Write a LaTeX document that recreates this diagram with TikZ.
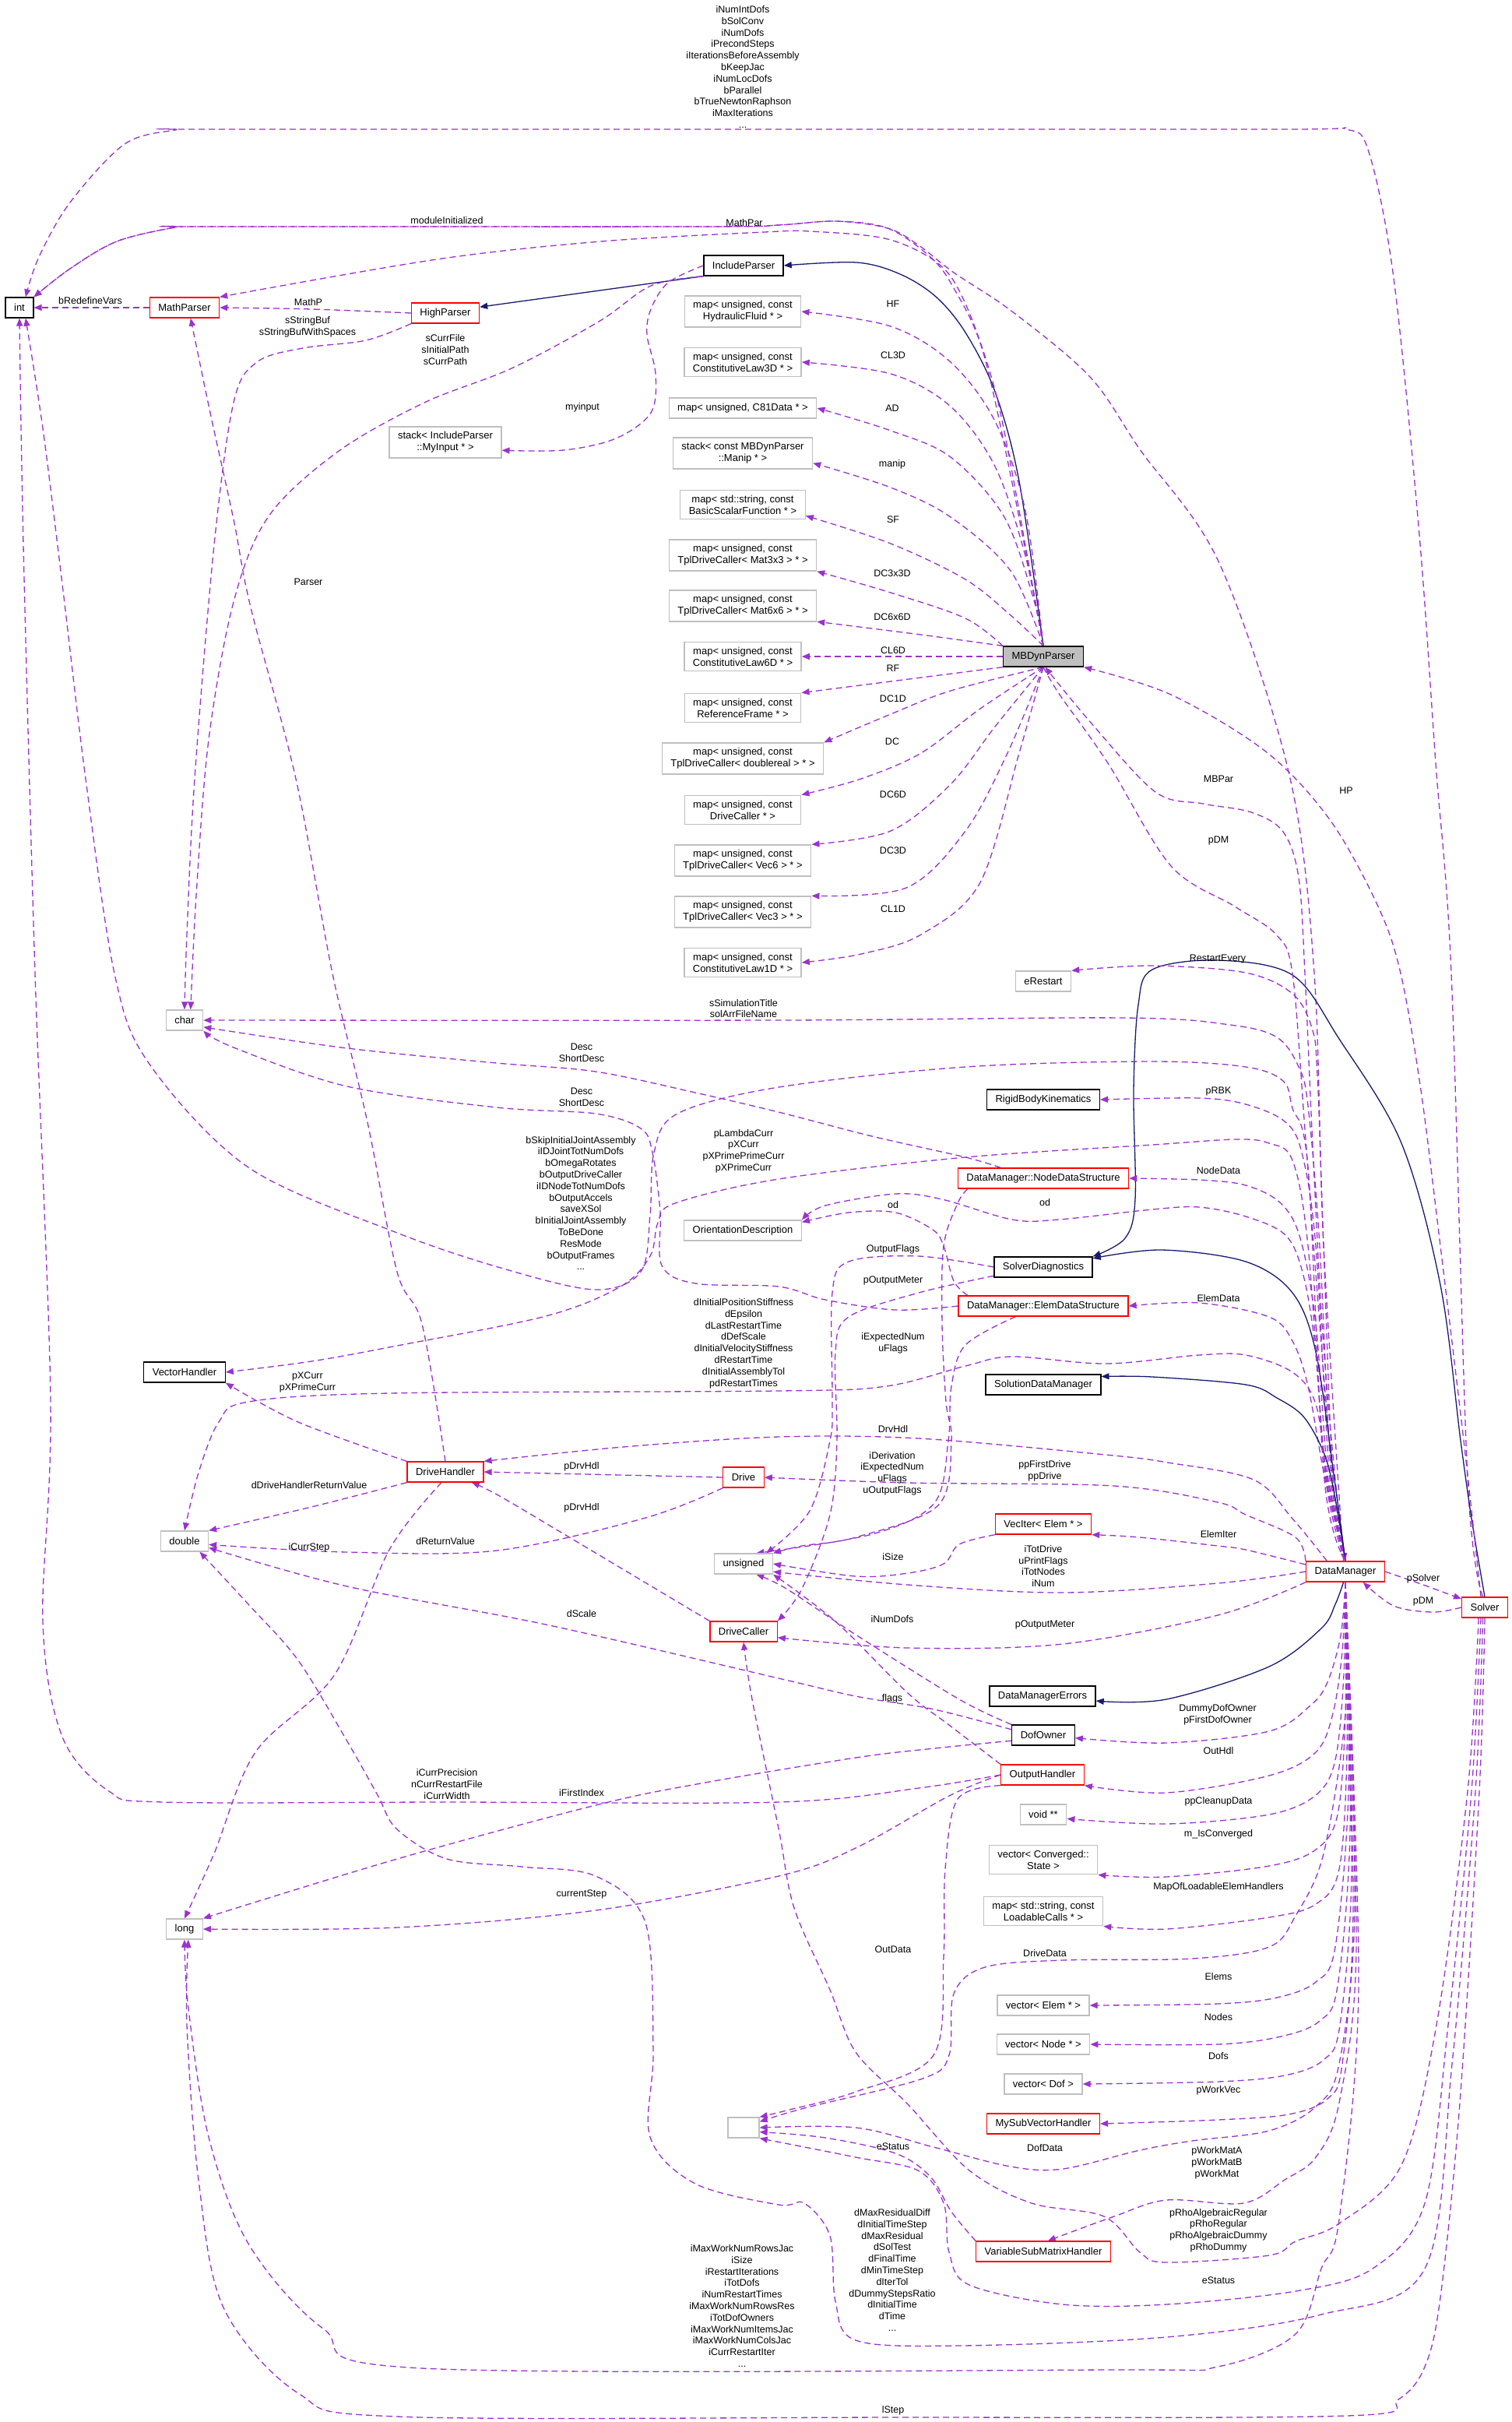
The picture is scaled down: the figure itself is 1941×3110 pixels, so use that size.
\documentclass[tikz,border=0pt]{standalone}
\usepackage{fontspec}
\setmainfont{Liberation Sans}
\usetikzlibrary{arrows.meta,backgrounds}
\definecolor{edgecol}{HTML}{9A32CD}
\definecolor{basecol}{HTML}{191970}
\definecolor{greycol}{HTML}{BFBFBF}
\begin{document}
\begin{tikzpicture}[
    x=1pt, y=-1pt, tension=0.55,
    >={Triangle[length=10pt,width=8pt]},
    every node/.style={font=\fontsize{13}{15}\selectfont, align=center},
    cls/.style={draw=black, line width=1.3pt, fill=white, inner xsep=11pt, inner ysep=6.5pt, minimum height=26pt},
    hot/.style={cls, draw=red},
    plain/.style={cls, draw=greycol},
    lbl/.style={font=\fontsize{12.5}{14.8}\selectfont, inner sep=0pt},
    member/.style={draw=edgecol, line width=1.3pt, dash pattern=on 8pt off 5pt, ->},
    inherit/.style={draw=basecol, line width=1.3pt, ->}
]
\begin{scope}[on background layer]
\path[use as bounding box, fill=white] (0,0) rectangle (1941,3110);
\end{scope}

\node[cls] (intT) at (25,395) {int};
\node[hot] (mathp) at (237,395) {MathParser};
\node[hot] (highp) at (572,402) {HighParser};
\node[cls] (inclp) at (955,341) {IncludeParser};
\node[plain] (stackin) at (572,568) {stack< IncludeParser\\::MyInput * >};
\node[plain] (charT) at (237,1310) {char};
\node[cls] (vech) at (237,1762) {VectorHandler};
\node[plain] (dblT) at (237,1979) {double};
\node[plain] (longT) at (237,2477) {long};
\node[hot] (drvh) at (572,1890) {DriveHandler};
\node[hot] (drive) at (955,1897) {Drive};
\node[plain] (unsT) at (955,2008) {unsigned};
\node[hot] (drvc) at (955,2095) {DriveCaller};
\node[plain, minimum width=40pt] (emptyT) at (955,2732) {};
\node[plain] (orient) at (954,1580) {OrientationDescription};

\node[plain] (mapHF) at (954,400) {map< unsigned, const\\HydraulicFluid * >};
\node[plain] (mapCLtd) at (954,465) {map< unsigned, const\\ConstitutiveLaw3D * >};
\node[plain] (mapAD) at (954,524) {map< unsigned, C81Data * >};
\node[plain] (stManip) at (954,582) {stack< const MBDynParser\\::Manip * >};
\node[plain] (mapSF) at (954,648) {map< std::string, const\\BasicScalarFunction * >};
\node[plain] (mapDCmm) at (954,713) {map< unsigned, const\\TplDriveCaller< Mat3x3 > * >};
\node[plain] (mapDCss) at (954,778) {map< unsigned, const\\TplDriveCaller< Mat6x6 > * >};
\node[plain] (mapCLsd) at (954,843) {map< unsigned, const\\ConstitutiveLaw6D * >};
\node[plain] (mapRF) at (954,909) {map< unsigned, const\\ReferenceFrame * >};
\node[plain] (mapDCd) at (954,974) {map< unsigned, const\\TplDriveCaller< doublereal > * >};
\node[plain] (mapDC) at (954,1040) {map< unsigned, const\\DriveCaller * >};
\node[plain] (mapDCvs) at (954,1105) {map< unsigned, const\\TplDriveCaller< Vec6 > * >};
\node[plain] (mapDCvt) at (954,1171) {map< unsigned, const\\TplDriveCaller< Vec3 > * >};
\node[plain] (mapCLod) at (954,1236) {map< unsigned, const\\ConstitutiveLaw1D * >};

\node[cls, fill=greycol] (mbp) at (1340,843) {MBDynParser};
\node[plain] (erest) at (1340,1260) {eRestart};
\node[cls] (rbk) at (1340,1412) {RigidBodyKinematics};
\node[hot] (nds) at (1340,1513) {DataManager::NodeDataStructure};
\node[cls] (sdiag) at (1340,1627) {SolverDiagnostics};
\node[hot] (eds) at (1340,1677) {DataManager::ElemDataStructure};
\node[cls] (sdm) at (1340,1778) {SolutionDataManager};
\node[hot] (veciter) at (1340,1957) {VecIter< Elem * >};
\node[cls] (dmerr) at (1339,2178) {DataManagerErrors};
\node[cls] (dofo) at (1340,2228) {DofOwner};
\node[hot] (outh) at (1339,2279) {OutputHandler};
\node[plain] (voidp) at (1340,2330) {void **};
\node[plain] (vconv) at (1340,2388) {vector< Converged::\\State >};
\node[plain] (mapLC) at (1340,2454) {map< std::string, const\\LoadableCalls * >};
\node[plain] (vElem) at (1340,2575) {vector< Elem * >};
\node[plain] (vNode) at (1340,2625) {vector< Node * >};
\node[plain] (vDof) at (1340,2676) {vector< Dof >};
\node[hot] (msvh) at (1340,2727) {MySubVectorHandler};
\node[hot] (vsmh) at (1340,2891) {VariableSubMatrixHandler};
\node[hot] (dman) at (1728,2018) {DataManager};
\node[hot] (solver) at (1907,2064) {Solver};

\node[lbl] (lTop) at (954,86) {iNumIntDofs\\bSolConv\\iNumDofs\\iPrecondSteps\\iIterationsBeforeAssembly\\bKeepJac\\iNumLocDofs\\bParallel\\bTrueNewtonRaphson\\iMaxIterations\\...};
\node[lbl] (lModInit) at (574,283) {moduleInitialized};
\node[lbl] (lMathPar) at (956,286) {MathPar};
\node[lbl] (lRedef) at (116,386) {bRedefineVars};
\node[lbl] (lMathP) at (396,388) {MathP};
\node[lbl] (lStrBuf) at (395,420) {sStringBuf\\sStringBufWithSpaces};
\node[lbl] (lCurrFile) at (572,449) {sCurrFile\\sInitialPath\\sCurrPath};
\node[lbl] (lMyInput) at (748,523) {myinput};
\node[lbl] (lParser) at (396,747) {Parser};
\node[lbl] (lHF) at (1147,390) {HF};
\node[lbl] (lCLtd) at (1147,456) {CL3D};
\node[lbl] (lAD) at (1146,524) {AD};
\node[lbl] (lManip) at (1146,596) {manip};
\node[lbl] (lSF) at (1147,667) {SF};
\node[lbl] (lDCmm) at (1146,736) {DC3x3D};
\node[lbl] (lDCss) at (1146,792) {DC6x6D};
\node[lbl] (lCLsd) at (1147,835) {CL6D};
\node[lbl] (lRF) at (1147,858) {RF};
\node[lbl] (lDCd) at (1147,897) {DC1D};
\node[lbl] (lDC) at (1146,952) {DC};
\node[lbl] (lDCvs) at (1147,1020) {DC6D};
\node[lbl] (lDCvt) at (1147,1092) {DC3D};
\node[lbl] (lCLod) at (1147,1167) {CL1D};
\node[lbl] (lHP) at (1729,1015) {HP};
\node[lbl] (lMBPar) at (1565,1000) {MBPar};
\node[lbl] (lDMa) at (1565,1079) {pDM};
\node[lbl] (lRestart) at (1564,1231) {RestartEvery};
\node[lbl] (lSimTitle) at (955,1295) {sSimulationTitle\\solArrFileName};
\node[lbl] (lDescA) at (747,1352) {Desc\\ShortDesc};
\node[lbl] (lDescB) at (747,1409) {Desc\\ShortDesc};
\node[lbl] (lRBK) at (1565,1401) {pRBK};
\node[lbl] (lSkip) at (746,1545) {bSkipInitialJointAssembly\\iIDJointTotNumDofs\\bOmegaRotates\\bOutputDriveCaller\\iIDNodeTotNumDofs\\bOutputAccels\\saveXSol\\bInitialJointAssembly\\ToBeDone\\ResMode\\bOutputFrames\\...};
\node[lbl] (lLambda) at (955,1478) {pLambdaCurr\\pXCurr\\pXPrimePrimeCurr\\pXPrimeCurr};
\node[lbl] (lNodeData) at (1565,1503) {NodeData};
\node[lbl] (lOdA) at (1147,1547) {od};
\node[lbl] (lOdB) at (1342,1544) {od};
\node[lbl] (lOutFlags) at (1147,1604) {OutputFlags};
\node[lbl] (lOutMetA) at (1147,1644) {pOutputMeter};
\node[lbl] (lElemData) at (1565,1667) {ElemData};
\node[lbl] (lStiff) at (955,1725) {dInitialPositionStiffness\\dEpsilon\\dLastRestartTime\\dDefScale\\dInitialVelocityStiffness\\dRestartTime\\dInitialAssemblyTol\\pdRestartTimes};
\node[lbl] (lExpNum) at (1147,1725) {iExpectedNum\\uFlags};
\node[lbl] (lXCurr) at (395,1775) {pXCurr\\pXPrimeCurr};
\node[lbl] (lDrvHdlC) at (1147,1835) {DrvHdl};
\node[lbl] (lDrvHdlA) at (747,1883) {pDrvHdl};
\node[lbl] (lDeriv) at (1146,1892) {iDerivation\\iExpectedNum\\uFlags\\uOutputFlags};
\node[lbl] (lFirstDrive) at (1342,1889) {ppFirstDrive\\ppDrive};
\node[lbl] (lDrvRet) at (397,1907) {dDriveHandlerReturnValue};
\node[lbl] (lDrvHdlB) at (747,1936) {pDrvHdl};
\node[lbl] (lElemIter) at (1565,1970) {ElemIter};
\node[lbl] (lRetVal) at (572,1979) {dReturnValue};
\node[lbl] (lCurrStep) at (397,1987) {iCurrStep};
\node[lbl] (lSize) at (1147,1999) {iSize};
\node[lbl] (lTotDrive) at (1340,2011) {iTotDrive\\uPrintFlags\\iTotNodes\\iNum};
\node[lbl] (lSolver) at (1828,2027) {pSolver};
\node[lbl] (lDMb) at (1828,2056) {pDM};
\node[lbl] (lScale) at (747,2072) {dScale};
\node[lbl] (lNumDofs) at (1146,2079) {iNumDofs};
\node[lbl] (lOutMetB) at (1342,2086) {pOutputMeter};
\node[lbl] (lFlags) at (1146,2181) {flags};
\node[lbl] (lDummy) at (1564,2202) {DummyDofOwner\\pFirstDofOwner};
\node[lbl] (lOutHdl) at (1565,2248) {OutHdl};
\node[lbl] (lPrec) at (574,2291) {iCurrPrecision\\nCurrRestartFile\\iCurrWidth};
\node[lbl] (lFirstIdx) at (747,2302) {iFirstIndex};
\node[lbl] (lCleanup) at (1565,2313) {ppCleanupData};
\node[lbl] (lConv) at (1565,2355) {m\_IsConverged};
\node[lbl] (lLoad) at (1565,2423) {MapOfLoadableElemHandlers};
\node[lbl] (lCurStep) at (747,2432) {currentStep};
\node[lbl] (lOutData) at (1147,2503) {OutData};
\node[lbl] (lDrvData) at (1342,2508) {DriveData};
\node[lbl] (lElems) at (1565,2538) {Elems};
\node[lbl] (lNodes) at (1565,2590) {Nodes};
\node[lbl] (lDofs) at (1565,2640) {Dofs};
\node[lbl] (lWorkVec) at (1565,2684) {pWorkVec};
\node[lbl] (lStatA) at (1147,2756) {eStatus};
\node[lbl] (lDofData) at (1342,2758) {DofData};
\node[lbl] (lWorkMat) at (1563,2777) {pWorkMatA\\pWorkMatB\\pWorkMat};
\node[lbl] (lRho) at (1565,2864) {pRhoAlgebraicRegular\\pRhoRegular\\pRhoAlgebraicDummy\\pRhoDummy};
\node[lbl] (lResid) at (1146,2915) {dMaxResidualDiff\\dInitialTimeStep\\dMaxResidual\\dSolTest\\dFinalTime\\dMinTimeStep\\dIterTol\\dDummyStepsRatio\\dInitialTime\\dTime\\...};
\node[lbl] (lStatB) at (1565,2928) {eStatus};
\node[lbl] (lIter) at (953,2961) {iMaxWorkNumRowsJac\\iSize\\iRestartIterations\\iTotDofs\\iNumRestartTimes\\iMaxWorkNumRowsRes\\iTotDofOwners\\iMaxWorkNumItemsJac\\iMaxWorkNumColsJac\\iCurrRestartIter\\...};
\node[lbl] (lStep) at (1147,3095) {lStep};

\begin{scope}[on background layer]
\draw[member] (mathp.west) -- (intT.east);
\draw[member] plot[smooth] coordinates {(highp.west) (400,397) (mathp.east)};
\draw[inherit] (inclp.south west) -- (highp.10);
\draw[inherit] plot[smooth] coordinates {(mbp.north) (1309,618) (1278,503) (1240,427) (1202,381) (1156,352) (1100,337) (inclp.east)};
\draw[member] plot[smooth] coordinates {(highp.south west) (470,437) (389,447) (330,465) (300,517) (275,700) (250,1000) (240,1200) (charT.north)};
\draw[member] plot[smooth] coordinates {(inclp.south west) (836,367) (769,413) (657,473) (545,517) (434,580) (345,663) (300,773) (268,950) (252,1150) (charT.60)};
\draw[member] plot[smooth] coordinates {(inclp.west) (858,363) (836,397) (831,430) (842,480) (836,530) (791,563) (724,578) (stackin.-8)};
\draw[member] plot[smooth] coordinates {(mbp.north) (1295,580) (1273,483) (1240,390) (1207,340) (1140,307) (1040,297) (982,298) (772,310) (561,333) (mathp.north east)};
\draw[member] plot[smooth] coordinates {(mbp.north) (1300,620) (1262,450) (1225,370) (1195,330) (1140,293) (1073,284) (1000,289) (900,291) (260,291) (225,292) (150,310) (90,345) (intT.north east)};
\draw[member] plot[smooth] coordinates {(dman.100) (1700,1600) (1688,1250) (1656,995) (1566,723) (1464,577) (1400,484) (1300,400) (1225,350) (1180,315) (1140,293) (1073,284) (1000,289) (900,291) (260,291) (225,292) (150,310) (90,345) (intT.north east)};
\draw[member] plot[smooth] coordinates {(solver.100) (1885,1900) (1864,1250) (1844,980) (1823,687) (1790,357) (1758,195) (1729,166) (1650,166) (954,166) (260,166) (225,167) (160,185) (90,260) (50,330) (intT.60)};

\draw[member] plot[smooth] coordinates {(mbp.north) (1317,656) (1278,541) (1221,465) (1144,419) (mapHF.east)};
\draw[member] plot[smooth] coordinates {(mbp.north) (1317,714) (1278,599) (1221,522) (1144,480) (mapCLtd.east)};
\draw[member] plot[smooth] coordinates {(mbp.north) (1328,771) (1290,664) (1221,587) (1144,553) (mapAD.east)};
\draw[member] plot[smooth] coordinates {(mbp.north) (1298,733) (1221,664) (1144,626) (stManip.-8)};
\draw[member] plot[smooth] coordinates {(mbp.north) (1298,790) (1240,744) (1144,698) (mapSF.-10)};
\draw[member] plot[smooth] coordinates {(mbp.north west) (1240,794) (1144,761) (mapDCmm.south east)};
\draw[member] plot[smooth] coordinates {(mbp.north west) (1183,815) (mapDCss.-12)};
\draw[member] (mbp.west) -- (mapCLsd.east);
\draw[member] plot[smooth] coordinates {(mbp.south west) (1183,870) (mapRF.north east)};
\draw[member] plot[smooth] coordinates {(mbp.south) (1221,887) (1144,917) (mapDCd.north east)};
\draw[member] plot[smooth] coordinates {(mbp.south) (1259,910) (1183,967) (1106,1000) (mapDC.north east)};
\draw[member] plot[smooth] coordinates {(mbp.south) (1278,933) (1221,1007) (1144,1067) (mapDCvs.north east)};
\draw[member] plot[smooth] coordinates {(mbp.south) (1294,967) (1240,1067) (1164,1140) (mapDCvt.north east)};
\draw[member] plot[smooth] coordinates {(mbp.south) (1309,967) (1259,1133) (1183,1200) (1106,1225) (mapCLod.east)};

\draw[inherit] plot[smooth] coordinates {(solver.north) (1890,1950) (1876,1850) (1850,1650) (1800,1468) (1720,1334) (1660,1252) (1564,1233) (1480,1245) (1462,1290) (1456,1400) (1458,1540) (1445,1590) (sdiag.north east)};
\draw[member] plot[smooth] coordinates {(solver.110) (1880,1850) (1850,1600) (1825,1400) (1799,1250) (1770,1164) (1709,1054) (1627,966) (1504,892) (mbp.south east)};
\draw[member] plot[smooth] coordinates {(mbp.south) (1361,892) (1423,980) (1504,1112) (1586,1164) (1639,1200) (1660,1250) (1676,1450) (1695,1700) (1712,1900) (dman.north)};
\draw[member] plot[smooth] coordinates {(dman.north) (1715,1900) (1698,1700) (1685,1450) (1676,1250) (1668,1127) (1648,1068) (1607,1043) (1545,1032) (1484,1017) (1402,929) (mbp.-80)};

\draw[member] plot[smooth] coordinates {(dman.north) (1712,1900) (1700,1600) (1692,1380) (1685,1320) (1660,1276) (1600,1249) (1480,1240) (erest.north east)};
\draw[member] plot[smooth] coordinates {(dman.north) (1710,1900) (1695,1600) (1680,1420) (1668,1370) (1640,1332) (1580,1316) (1444,1307) (1000,1310) (charT.east)};
\draw[member] plot[smooth] coordinates {(dman.north) (1708,1900) (1690,1600) (1672,1480) (1650,1440) (1600,1418) (1540,1410) (rbk.east)};
\draw[member] plot[smooth] coordinates {(dman.north) (1706,1900) (1690,1700) (1670,1590) (1645,1545) (1600,1522) (1540,1515) (nds.east)};
\draw[member] plot[smooth] coordinates {(dman.north) (1704,1900) (1688,1720) (1672,1630) (1650,1585) (1600,1562) (1540,1550) (1480,1553) (1360,1566) (1300,1566) (1210,1540) (1150,1533) (1060,1548) (orient.north east)};
\draw[inherit] plot[smooth] coordinates {(dman.north) (1714,1900) (1690,1736) (1660,1660) (1600,1620) (1492,1605) (sdiag.10)};
\draw[member] plot[smooth] coordinates {(dman.north) (1702,1900) (1680,1780) (1660,1722) (1630,1691) (1540,1673) (eds.east)};
\draw[inherit] plot[smooth] coordinates {(dman.north) (1716,1930) (1702,1870) (1675,1820) (1640,1795) (1600,1778) (1480,1768) (sdm.8)};
\draw[member] plot[smooth] coordinates {(dman.north) (1705,1900) (1690,1803) (1660,1762) (1600,1740) (1540,1740) (1420,1751) (1300,1742) (1240,1754) (1138,1780) (1000,1786) (500,1789) (319,1800) (281,1826) (255,1891) (dblT.north)};
\draw[member] plot[smooth] coordinates {(dman.north) (1703,1900) (1680,1600) (1660,1490) (1630,1468) (1588,1463) (1480,1470) (1240,1486) (1000,1514) (867,1545) (845,1570) (835,1613) (797,1652) (701,1690) (510,1728) (400,1748) (vech.east)};
\draw[member] plot[smooth] coordinates {(dman.north) (1701,1900) (1680,1500) (1660,1423) (1648,1388) (1600,1370) (1480,1363) (1240,1370) (1000,1396) (870,1430) (840,1480) (835,1560) (823,1633) (765,1656) (650,1630) (510,1583) (319,1499) (191,1365) (147,1250) (110,1000) (80,750) (55,550) (intT.-60)};
\draw[member] plot[smooth] coordinates {(dman.150) (1660,1950) (1610,1900) (1500,1878) (1420,1868) (1180,1847) (1000,1845) (800,1858) (drvh.north east)};
\draw[member] plot[smooth] coordinates {(dman.north west) (1664,1974) (1600,1945) (1564,1929) (1431,1908) (1166,1904) (drive.east)};
\draw[member] plot[smooth] coordinates {(dman.170) (1600,1990) (1564,1985) (1464,1974) (veciter.south east)};
\draw[member] plot[smooth] coordinates {(dman.west) (1564,2033) (1365,2045) (1166,2035) (unsT.-15)};
\draw[member] plot[smooth] coordinates {(dman.south west) (1564,2074) (1365,2111) (1166,2116) (drvc.-10)};
\draw[inherit] plot[smooth] coordinates {(dman.-100) (1715,2060) (1697,2091) (1630,2140) (1498,2182) (dmerr.-5)};
\draw[member] plot[smooth] coordinates {(dman.south) (1722,2100) (1705,2160) (1683,2190) (1630,2223) (1498,2238) (dofo.-5)};
\draw[member] plot[smooth] coordinates {(dman.south) (1724,2120) (1712,2200) (1690,2250) (1630,2280) (1498,2302) (outh.south east)};
\draw[member] plot[smooth] coordinates {(dman.south) (1726,2150) (1715,2260) (1690,2305) (1630,2330) (1498,2342) (voidp.-10)};
\draw[member] plot[smooth] coordinates {(dman.south) (1728,2200) (1718,2330) (1690,2375) (1630,2396) (1498,2410) (vconv.south east)};
\draw[member] plot[smooth] coordinates {(dman.south) (1730,2250) (1720,2400) (1690,2445) (1630,2462) (1498,2477) (mapLC.south east)};
\draw[member] plot[smooth] coordinates {(dman.south) (1732,2300) (1715,2500) (1690,2545) (1640,2565) (1564,2573) (vElem.east)};
\draw[member] plot[smooth] coordinates {(dman.south) (1734,2350) (1718,2550) (1695,2595) (1645,2615) (1564,2625) (vNode.east)};
\draw[member] plot[smooth] coordinates {(dman.south) (1736,2400) (1721,2600) (1700,2645) (1650,2665) (1564,2673) (vDof.east)};
\draw[member] plot[smooth] coordinates {(dman.south) (1738,2450) (1724,2650) (1705,2695) (1655,2715) (1564,2722) (msvh.east)};
\draw[member] plot[smooth] coordinates {(dman.south) (1728,2200) (1700,2380) (1664,2460) (1630,2500) (1531,2515) (1365,2517) (1265,2526) (1225,2560) (1219,2639) (1185,2669) (1033,2707) (emptyT.20)};
\draw[member] plot[smooth] coordinates {(dman.south) (1740,2450) (1720,2650) (1690,2705) (1630,2736) (1531,2749) (1464,2761) (1365,2785) (1298,2782) (1199,2757) (1099,2732) (emptyT.east)};
\draw[member] plot[smooth] coordinates {(dman.south) (1742,2500) (1720,2700) (1690,2770) (1650,2799) (1597,2829) (1498,2825) (1431,2846) (vsmh.67)};
\draw[member] plot[smooth] coordinates {(dman.south) (1745,2550) (1720,2850) (1697,2913) (1664,2997) (1564,3039) (1431,3043) (542,3041) (415,2990) (319,2881) (268,2744) (242,2579) (longT.south)};
\draw[member] plot[smooth] coordinates {(dman.east) (1828,2035) (solver.160)};
\draw[member] plot[smooth] coordinates {(solver.west) (1840,2070) (1790,2062) (dman.-31)};

\draw[member] plot[smooth] coordinates {(solver.south) (1900,2300) (1875,2700) (1850,2950) (1830,3039) (1796,3081) (1730,3102) (1147,3104) (510,3103) (383,3073) (287,2963) (255,2799) (240,2600) (longT.-70)};
\draw[member] plot[smooth] coordinates {(solver.-100) (1895,2300) (1865,2650) (1830,2913) (1697,2972) (1498,3001) (1232,3012) (1099,3005) (1073,2955) (1066,2871) (1033,2829) (1000,2831) (893,2804) (835,2744) (839,2634) (829,2469) (765,2409) (670,2397) (574,2387) (510,2349) (485,2305) (446,2236) (383,2132) (319,2060) (dblT.-35)};
\draw[member] plot[smooth] coordinates {(solver.-110) (1890,2300) (1860,2600) (1830,2829) (1763,2913) (1664,2942) (1498,2959) (1365,2959) (1245,2934) (1219,2892) (1212,2829) (1179,2787) (1099,2770) (emptyT.south east)};
\draw[member] plot[smooth] coordinates {(solver.-120) (1885,2300) (1845,2600) (1800,2780) (1720,2855) (1664,2878) (1630,2896) (1498,2905) (1464,2892) (1418,2846) (1325,2829) (1245,2787) (1166,2702) (1099,2635) (1066,2555) (1020,2450) (1000,2348) (966,2182) (drvc.south)};

\draw[member] plot[smooth] coordinates {(vsmh.north west) (1222,2840) (1195,2795) (1150,2765) (1060,2745) (emptyT.-15)};
\draw[member] plot[smooth] coordinates {(outh.south west) (1230,2310) (1214,2400) (1212,2513) (1199,2639) (1099,2686) (1010,2710) (emptyT.north east)};
\draw[member] plot[smooth] coordinates {(outh.west) (1180,2296) (1000,2314) (574,2314) (210,2314) (140,2300) (80,2230) (55,2083) (65,1800) (45,1250) (30,700) (intT.south)};
\draw[member] plot[smooth] coordinates {(outh.west) (1219,2306) (1099,2373) (1000,2409) (765,2453) (510,2475) (longT.east)};
\draw[member] plot[smooth] coordinates {(outh.north west) (1219,2215) (1166,2174) (1073,2082) (unsT.south east)};
\draw[member] plot[smooth] coordinates {(dofo.north west) (1232,2182) (1099,2099) (1010,2040) (unsT.-40)};
\draw[member] plot[smooth] coordinates {(dofo.170) (1200,2195) (1099,2178) (1000,2155) (701,2086) (446,2037) (dblT.-15)};
\draw[member] plot[smooth] coordinates {(dofo.-170) (1200,2245) (1099,2257) (900,2290) (765,2318) (510,2387) (longT.north east)};
\draw[member] plot[smooth] coordinates {(veciter.south west) (1232,1983) (1212,2008) (1166,2020) (1099,2024) (unsT.east)};
\draw[member] plot[smooth] coordinates {(sdiag.west) (1180,1613) (1090,1620) (1069,1660) (1069,1800) (1066,1850) (1040,1940) (unsT.25)};
\draw[member] plot[smooth] coordinates {(sdiag.-170) (1180,1660) (1090,1691) (1073,1736) (1075,1850) (1066,1945) (1030,2040) (drvc.north east)};
\draw[member] plot[smooth] coordinates {(nds.-172) (1230,1545) (1212,1600) (1210,1700) (1215,1800) (1222,1850) (1205,1933) (1099,1974) (1030,1985) (unsT.north east)};
\draw[member] plot[smooth] coordinates {(eds.-159) (1240,1727) (1222,1780) (1218,1850) (1200,1930) (1120,1970) (unsT.40)};
\draw[member] plot[smooth] coordinates {(eds.west) (1150,1682) (1060,1669) (1000,1652) (893,1648) (850,1625) (848,1556) (838,1480) (823,1449) (765,1430) (638,1422) (446,1395) (300,1345) (charT.south east)};
\draw[member] plot[smooth] coordinates {(nds.166) (1240,1486) (1120,1459) (1000,1428) (893,1403) (765,1376) (638,1365) (446,1346) (charT.-20)};
\draw[member] plot[smooth] coordinates {(eds.172) (1225,1645) (1212,1600) (1198,1579) (1150,1557) (1090,1557) (orient.8)};
\draw[member] (drive.west) -- (drvh.east);
\draw[member] plot[smooth] coordinates {(drive.south west) (829,1949) (638,1991) (446,1993) (dblT.-8)};
\draw[member] plot[smooth] coordinates {(drvc.north west) (733,1975) (640,1920) (drvh.-22)};
\draw[member] plot[smooth] coordinates {(drvh.north) (542,1700) (510,1633) (472,1441) (427,1250) (380,1000) (322,780) (300,667) (270,530) (mathp.-60)};
\draw[member] plot[smooth] coordinates {(drvh.north west) (383,1826) (vech.south east)};
\draw[member] plot[smooth] coordinates {(drvh.south west) (400,1935) (dblT.north east)};
\draw[member] plot[smooth] coordinates {(drvh.-110) (500,1990) (430,2150) (328,2250) (275,2380) (longT.north)};
\end{scope}
\end{tikzpicture}
\end{document}
